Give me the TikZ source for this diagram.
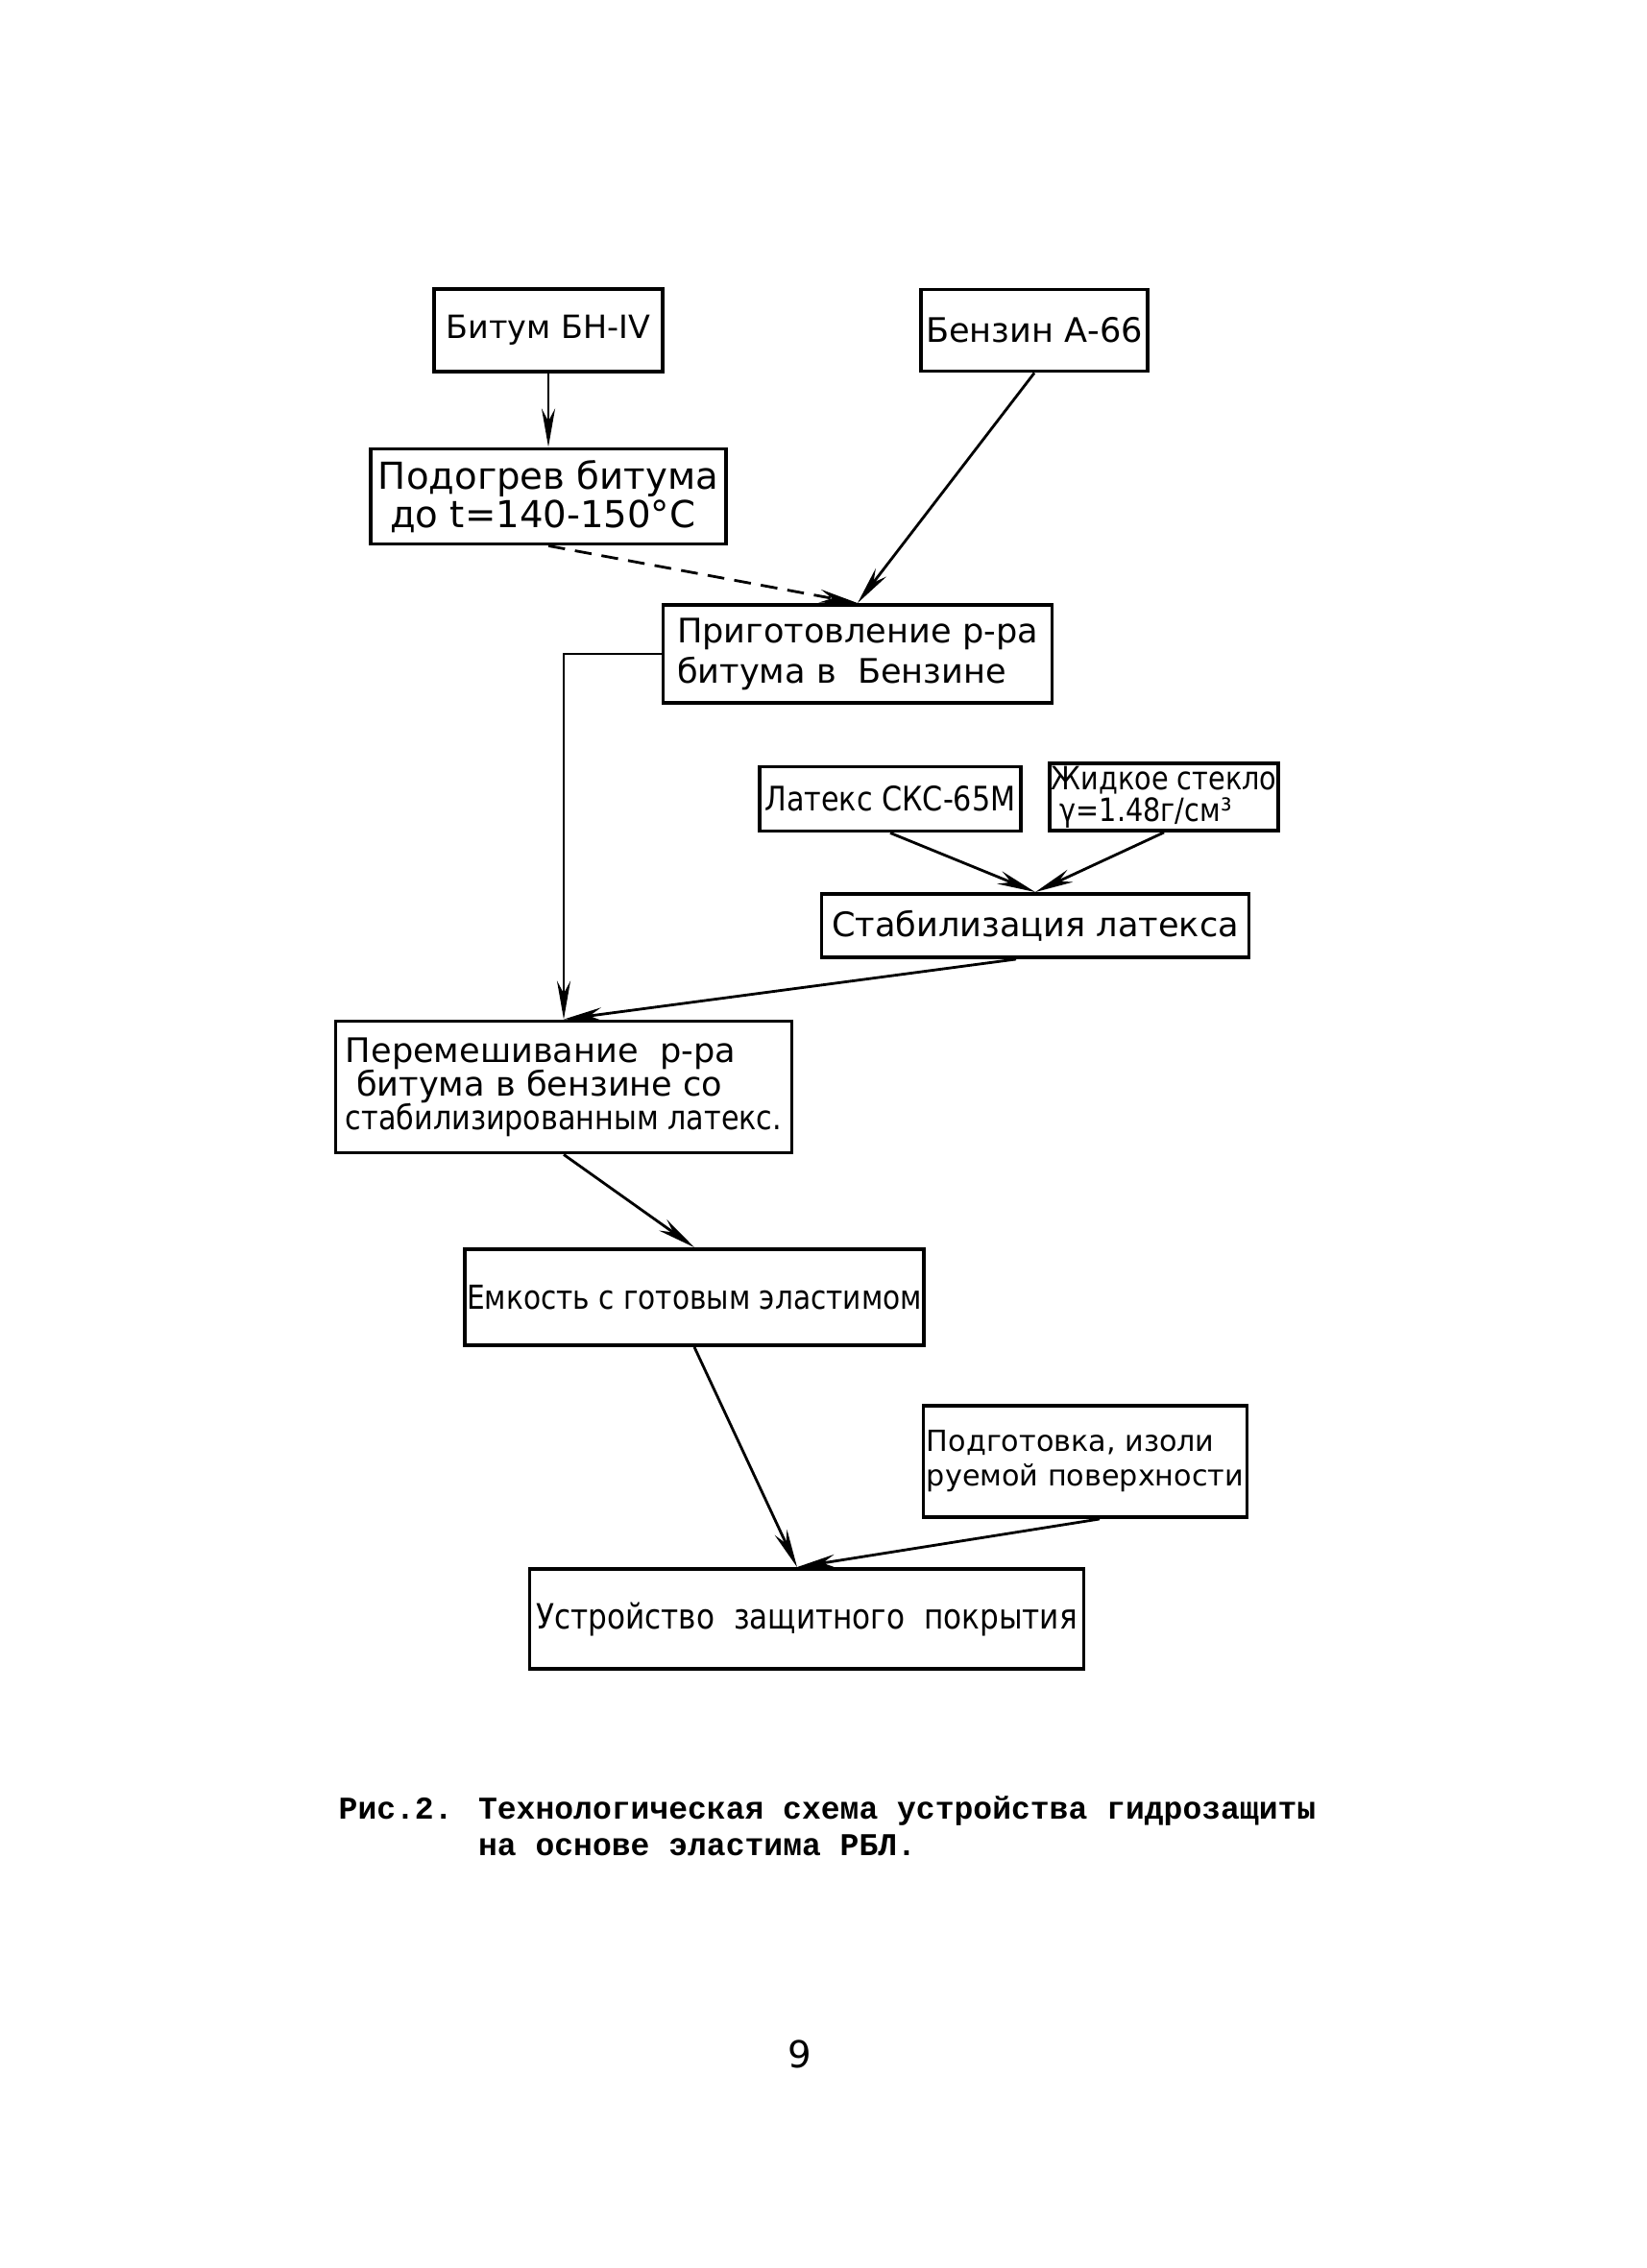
\documentclass[tikz,border=0pt]{standalone}
\usepackage{fontspec}
\setmainfont{DejaVu Sans}
\newfontfamily\narrowfont{DejaVu Sans}[FakeStretch=0.86]
\newfontfamily\capfont{Liberation Mono}
\usetikzlibrary{arrows.meta, positioning}
\tikzset{
	pbox/.style={draw, line width=1.1pt, align=left, inner sep=1.5pt,
		font=\fontsize{10}{12}\selectfont},
	narrow/.style={font=\narrowfont\fontsize{10}{12}\selectfont},
	parr/.style={-{Stealth[length=4mm, width=1.4mm]}, line width=0.8pt}
}

\begin{document}
\begin{tikzpicture}
	\useasboundingbox (0,0) rectangle (17.14,-23.62);
	% raw materials
	\node[pbox, minimum width=2.38cm, minimum height=0.86cm, font=\fontsize{9.5}{12}\selectfont] (bit) at (5.71,-3.44) {Битум БН-IV};
	\node[pbox, minimum width=2.35cm, minimum height=0.85cm] (benz) at (10.77,-3.44) {Бензин А-66};
	\node[pbox, minimum width=3.70cm, minimum height=0.99cm, font=\fontsize{11}{9.6}\selectfont] (heat) at (5.71,-5.17) {Подогрев битума\\\ до t=140-150°C};
	\node[pbox, minimum width=4.05cm, minimum height=1.02cm] (prep) at (8.93,-6.81) {Приготовление р-ра\\битума в \ Бензине};
	% latex branch
	\node[pbox, narrow, minimum width=2.72cm, minimum height=0.67cm] (lat) at (9.27,-8.32) {Латекс СКС-65М};
	\node[pbox, minimum width=2.38cm, minimum height=0.70cm, inner sep=0.5pt, font=\narrowfont\fontsize{9.5}{9.4}\selectfont] (glass) at (12.12,-8.30) {Жидкое стекло\\\ γ=1.48г/см³};
	\node[pbox, minimum width=4.45cm, minimum height=0.66cm] (stab) at (10.78,-9.64) {Стабилизация латекса};
	% mixing and application
	\node[pbox, minimum width=4.75cm, minimum height=1.37cm, font=\fontsize{10}{10}\selectfont] (mix) at (5.87,-11.32) {Перемешивание \ р-ра\\\ битума в бензине со\\{\narrowfont стабилизированным латекс.}};
	\node[pbox, minimum width=4.76cm, minimum height=1.00cm, inner sep=0.5pt, font=\narrowfont\fontsize{9.8}{12}\selectfont] (tank) at (7.23,-13.51) {Емкость с готовым эластимом};
	\node[pbox, minimum width=3.37cm, minimum height=1.16cm, inner sep=0.5pt, font=\fontsize{8.6}{10.2}\selectfont] (surf) at (11.30,-15.22) {Подготовка, изоли\\руемой поверхности};
	\node[pbox, minimum width=5.77cm, minimum height=1.04cm, font=\narrowfont\fontsize{10.3}{12}\selectfont] (coat) at (8.40,-16.86) {Устройство \ защитного \ покрытия};

	\draw[parr] (bit) -- (heat);
	\draw[parr, dash pattern=on 5pt off 3pt] (heat.south) -- (prep.north);
	\draw[parr] (benz.south) -- (prep.north);
	\draw[parr] (prep.west) -| (mix.north);
	\draw[parr] (lat.south) -- (stab.north);
	\draw[parr] (glass.south) -- (stab.north);
	\draw[parr] ([xshift=-0.2cm]stab.south) -- (mix.north);
	\draw[parr] (mix.south) -- (tank.north);
	\draw[parr] (tank.south) -- ([xshift=-0.1cm]coat.north);
	\draw[parr] ([xshift=0.15cm]surf.south) -- ([xshift=-0.1cm]coat.north);

	% caption
	\node[anchor=west, align=left, inner sep=0pt, font=\capfont\bfseries\fontsize{9.4}{10.8}\selectfont] (cap) at (3.52,-19.02)
		{Рис.2. Технологическая схема устройства гидрозащиты\\\phantom{Рис.2. }на основе эластима РБЛ.};
	\node[font=\fontsize{11}{12}\selectfont] (page) at (8.33,-21.39) {9};
\end{tikzpicture}
\end{document}
